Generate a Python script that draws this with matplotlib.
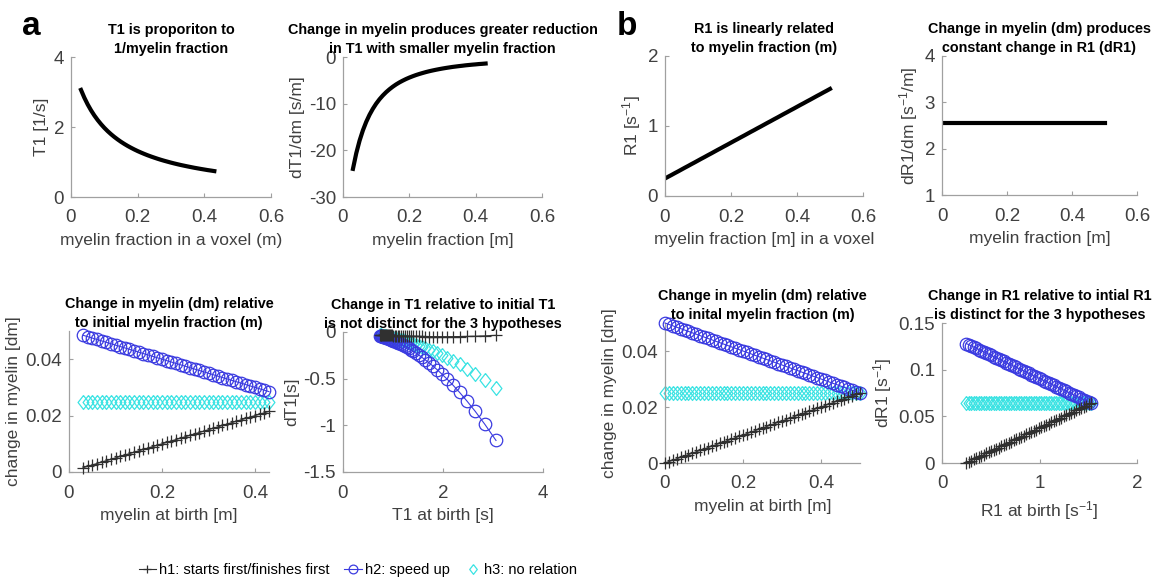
"""Myelin / T1 / R1 hypotheses figure: panels a (T1) and b (R1)."""
import matplotlib
matplotlib.use("Agg")
import matplotlib.pyplot as plt
from matplotlib import font_manager
from matplotlib.ticker import FuncFormatter

plt.rcParams["font.family"] = ["Liberation Sans", "DejaVu Sans"]
plt.rcParams["mathtext.default"] = "regular"
plt.rcParams["axes.unicode_minus"] = False

# ---------------- panel a: myelin fraction 0.03 .. 0.43 ----------------
M_A = [0.03, 0.04, 0.05, 0.06, 0.07, 0.08, 0.09, 0.10, 0.11, 0.12, 0.13,
       0.14, 0.15, 0.16, 0.17, 0.18, 0.19, 0.20, 0.21, 0.22, 0.23, 0.24,
       0.25, 0.26, 0.27, 0.28, 0.29, 0.30, 0.31, 0.32, 0.33, 0.34, 0.35,
       0.36, 0.37, 0.38, 0.39, 0.40, 0.41, 0.42, 0.43]
T1_A = [3.060, 2.838, 2.646, 2.478, 2.330, 2.199, 2.082, 1.976, 1.881, 1.795,
        1.716, 1.644, 1.577, 1.516, 1.459, 1.407, 1.358, 1.312, 1.270, 1.230,
        1.192, 1.157, 1.124, 1.092, 1.062, 1.034, 1.008, 0.982, 0.958, 0.935,
        0.913, 0.893, 0.873, 0.854, 0.835, 0.818, 0.801, 0.785, 0.769, 0.755,
        0.740]
DT1_DM_A = [-23.97, -20.62, -17.92, -15.72, -13.90, -12.38, -11.10, -10.00,
            -9.06, -8.25, -7.54, -6.92, -6.37, -5.88, -5.45, -5.07, -4.72,
            -4.41, -4.13, -3.87, -3.64, -3.43, -3.23, -3.05, -2.89, -2.74,
            -2.60, -2.47, -2.35, -2.24, -2.13, -2.04, -1.95, -1.87, -1.78,
            -1.71, -1.64, -1.58, -1.51, -1.46, -1.40]
DM_H1_A = [0.0015, 0.0020, 0.0025, 0.0030, 0.0035, 0.0040, 0.0045, 0.0050,
           0.0055, 0.0060, 0.0065, 0.0070, 0.0075, 0.0080, 0.0085, 0.0090,
           0.0095, 0.0100, 0.0105, 0.0110, 0.0115, 0.0120, 0.0125, 0.0130,
           0.0135, 0.0140, 0.0145, 0.0150, 0.0155, 0.0160, 0.0165, 0.0170,
           0.0175, 0.0180, 0.0185, 0.0190, 0.0195, 0.0200, 0.0205, 0.0210,
           0.0215]
DM_H2_A = [0.0485, 0.0480, 0.0475, 0.0470, 0.0465, 0.0460, 0.0455, 0.0450,
           0.0445, 0.0440, 0.0435, 0.0430, 0.0425, 0.0420, 0.0415, 0.0410,
           0.0405, 0.0400, 0.0395, 0.0390, 0.0385, 0.0380, 0.0375, 0.0370,
           0.0365, 0.0360, 0.0355, 0.0350, 0.0345, 0.0340, 0.0335, 0.0330,
           0.0325, 0.0320, 0.0315, 0.0310, 0.0305, 0.0300, 0.0295, 0.0290,
           0.0285]
DM_H3_A = [0.025] * 41
DT1_H1_A = [-0.0360, -0.0412, -0.0448, -0.0472, -0.0487, -0.0495, -0.0500,
            -0.0500, -0.0498, -0.0495, -0.0490, -0.0484, -0.0478, -0.0470,
            -0.0463, -0.0456, -0.0448, -0.0441, -0.0434, -0.0426, -0.0419,
            -0.0412, -0.0404, -0.0397, -0.0390, -0.0384, -0.0377, -0.0371,
            -0.0364, -0.0358, -0.0351, -0.0347, -0.0341, -0.0337, -0.0329,
            -0.0325, -0.0320, -0.0316, -0.0310, -0.0307, -0.0301]
DT1_H2_A = [-1.162, -0.990, -0.851, -0.739, -0.646, -0.569, -0.505, -0.450,
            -0.403, -0.363, -0.328, -0.298, -0.271, -0.247, -0.226, -0.208,
            -0.191, -0.176, -0.163, -0.151, -0.140, -0.130, -0.121, -0.113,
            -0.105, -0.099, -0.092, -0.086, -0.081, -0.076, -0.071, -0.067,
            -0.063, -0.060, -0.056, -0.053, -0.050, -0.047, -0.045, -0.042,
            -0.040]
DT1_H3_A = [-0.599, -0.516, -0.448, -0.393, -0.348, -0.310, -0.278, -0.250,
            -0.227, -0.206, -0.189, -0.173, -0.159, -0.147, -0.136, -0.127,
            -0.118, -0.110, -0.103, -0.097, -0.091, -0.086, -0.081, -0.076,
            -0.072, -0.069, -0.065, -0.062, -0.059, -0.056, -0.053, -0.051,
            -0.049, -0.047, -0.045, -0.043, -0.041, -0.040, -0.038, -0.037,
            -0.035]

# ---------------- panel b: myelin fraction 0 .. 0.5 ----------------
M_B = [0.00, 0.01, 0.02, 0.03, 0.04, 0.05, 0.06, 0.07, 0.08, 0.09, 0.10,
       0.11, 0.12, 0.13, 0.14, 0.15, 0.16, 0.17, 0.18, 0.19, 0.20, 0.21,
       0.22, 0.23, 0.24, 0.25, 0.26, 0.27, 0.28, 0.29, 0.30, 0.31, 0.32,
       0.33, 0.34, 0.35, 0.36, 0.37, 0.38, 0.39, 0.40, 0.41, 0.42, 0.43,
       0.44, 0.45, 0.46, 0.47, 0.48, 0.49, 0.50]
R1_B = [0.250, 0.276, 0.301, 0.327, 0.352, 0.378, 0.404, 0.429, 0.455, 0.480,
        0.506, 0.532, 0.557, 0.583, 0.608, 0.634, 0.660, 0.685, 0.711, 0.736,
        0.762, 0.788, 0.813, 0.839, 0.864, 0.890, 0.916, 0.941, 0.967, 0.992,
        1.018, 1.044, 1.069, 1.095, 1.120, 1.146, 1.172, 1.197, 1.223, 1.248,
        1.274, 1.300, 1.325, 1.351, 1.376, 1.402, 1.428, 1.453, 1.479, 1.504,
        1.530]
DR1_DM_B = [2.56] * 51
DM_H1_B = [0.0000, 0.0005, 0.0010, 0.0015, 0.0020, 0.0025, 0.0030, 0.0035,
           0.0040, 0.0045, 0.0050, 0.0055, 0.0060, 0.0065, 0.0070, 0.0075,
           0.0080, 0.0085, 0.0090, 0.0095, 0.0100, 0.0105, 0.0110, 0.0115,
           0.0120, 0.0125, 0.0130, 0.0135, 0.0140, 0.0145, 0.0150, 0.0155,
           0.0160, 0.0165, 0.0170, 0.0175, 0.0180, 0.0185, 0.0190, 0.0195,
           0.0200, 0.0205, 0.0210, 0.0215, 0.0220, 0.0225, 0.0230, 0.0235,
           0.0240, 0.0245, 0.0250]
DM_H2_B = [0.0500, 0.0495, 0.0490, 0.0485, 0.0480, 0.0475, 0.0470, 0.0465,
           0.0460, 0.0455, 0.0450, 0.0445, 0.0440, 0.0435, 0.0430, 0.0425,
           0.0420, 0.0415, 0.0410, 0.0405, 0.0400, 0.0395, 0.0390, 0.0385,
           0.0380, 0.0375, 0.0370, 0.0365, 0.0360, 0.0355, 0.0350, 0.0345,
           0.0340, 0.0335, 0.0330, 0.0325, 0.0320, 0.0315, 0.0310, 0.0305,
           0.0300, 0.0295, 0.0290, 0.0285, 0.0280, 0.0275, 0.0270, 0.0265,
           0.0260, 0.0255, 0.0250]
DM_H3_B = [0.025] * 51
DR1_H1_B = [0.0000, 0.0013, 0.0026, 0.0038, 0.0051, 0.0064, 0.0077, 0.0090,
            0.0102, 0.0115, 0.0128, 0.0141, 0.0154, 0.0166, 0.0179, 0.0192,
            0.0205, 0.0218, 0.0230, 0.0243, 0.0256, 0.0269, 0.0282, 0.0294,
            0.0307, 0.0320, 0.0333, 0.0346, 0.0358, 0.0371, 0.0384, 0.0397,
            0.0410, 0.0422, 0.0435, 0.0448, 0.0461, 0.0474, 0.0486, 0.0499,
            0.0512, 0.0525, 0.0538, 0.0550, 0.0563, 0.0576, 0.0589, 0.0602,
            0.0614, 0.0627, 0.0640]
DR1_H2_B = [0.1280, 0.1267, 0.1254, 0.1242, 0.1229, 0.1216, 0.1203, 0.1190,
            0.1178, 0.1165, 0.1152, 0.1139, 0.1126, 0.1114, 0.1101, 0.1088,
            0.1075, 0.1062, 0.1050, 0.1037, 0.1024, 0.1011, 0.0998, 0.0986,
            0.0973, 0.0960, 0.0947, 0.0934, 0.0922, 0.0909, 0.0896, 0.0883,
            0.0870, 0.0858, 0.0845, 0.0832, 0.0819, 0.0806, 0.0794, 0.0781,
            0.0768, 0.0755, 0.0742, 0.0730, 0.0717, 0.0704, 0.0691, 0.0678,
            0.0666, 0.0653, 0.0640]
DR1_H3_B = [0.064] * 51

HYP_LABELS = ["h1: starts first/finishes first", "h2: speed up", "h3: no relation"]

# ---------------- style ----------------
W, H = 1158, 584
AXIS_GRAY = "#a0a0a0"
TEXT_GRAY = "#404040"
C_H1 = "#303030"
C_H2 = "#3b3be0"
C_H3 = "#3ae3e3"
DIAMOND = [(0, 1), (0.78, 0), (0, -1), (-0.78, 0), (0, 1)]
INV_S = "s$^{-1}$"


def rect(x0, y0, x1, y1):
    return [x0 / W, 1 - y1 / H, (x1 - x0) / W, (y1 - y0) / H]


def style(ax, title, xlabel, ylabel, xlim, ylim, xticks, yticks):
    for s in ("top", "right"):
        ax.spines[s].set_visible(False)
    for s in ("left", "bottom"):
        ax.spines[s].set_color(AXIS_GRAY)
        ax.spines[s].set_linewidth(0.9)
    ax.set_xlim(xlim)
    ax.set_ylim(ylim)
    ax.set_xticks(xticks)
    ax.set_yticks(yticks)
    fmt = FuncFormatter(lambda v, p: f"{v:g}")
    ax.xaxis.set_major_formatter(fmt)
    ax.yaxis.set_major_formatter(fmt)
    ax.tick_params(direction="in", length=3, width=0.8, color=AXIS_GRAY,
                   labelcolor=TEXT_GRAY, labelsize=13.5)
    ax.tick_params(axis="x", pad=9)
    ax.tick_params(axis="y", pad=5)
    ax.set_xlabel(xlabel, fontsize=12.5, color=TEXT_GRAY, labelpad=5)
    ax.set_ylabel(ylabel, fontsize=12.5, color=TEXT_GRAY, labelpad=3)
    ax.set_title(title, fontsize=10.4, fontweight="bold", pad=3, linespacing=1.45)


def hypotheses(ax, x, y1, y2, y3):
    l1, = ax.plot(x, y1, "-+", color=C_H1, lw=0.8, ms=8, mew=0.9,
                  clip_on=False, zorder=4)
    l2, = ax.plot(x, y2, "-o", color=C_H2, lw=0.8, ms=9, mfc="none", mew=0.9,
                  clip_on=False, zorder=3)
    l3, = ax.plot(x, y3, ls="none", marker=DIAMOND, color=C_H3, ms=10,
                  mfc="none", mew=0.9, clip_on=False, zorder=2)
    return [l1, l2, l3]


fig = plt.figure(figsize=(W / 100, H / 100), dpi=100)

# --- a, top row
ax = fig.add_axes(rect(71, 57, 271, 197))
ax.plot(M_A, T1_A, color="black", lw=3)
style(ax, "T1 is proporiton to\n1/myelin fraction",
      "myelin fraction in a voxel (m)", "T1 [1/s]",
      (0, 0.6), (0, 4), [0, 0.2, 0.4, 0.6], [0, 2, 4])

ax = fig.add_axes(rect(343, 57, 542, 197))
ax.plot(M_A, DT1_DM_A, color="black", lw=3)
style(ax, "Change in myelin produces greater reduction\nin T1 with smaller myelin fraction",
      "myelin fraction [m]", "dT1/dm [s/m]",
      (0, 0.6), (-30, 0), [0, 0.2, 0.4, 0.6], [-30, -20, -10, 0])

# --- b, top row
ax = fig.add_axes(rect(665, 56, 863, 196))
ax.plot(M_B, R1_B, color="black", lw=3)
style(ax, "R1 is linearly related\nto myelin fraction (m)",
      "myelin fraction [m] in a voxel", f"R1 [{INV_S}]",
      (0, 0.6), (0, 2), [0, 0.2, 0.4, 0.6], [0, 1, 2])

ax = fig.add_axes(rect(942, 56, 1137, 195))
ax.plot(M_B, DR1_DM_B, color="black", lw=3)
style(ax, "Change in myelin (dm) produces\nconstant change in R1 (dR1)",
      "myelin fraction [m]", f"dR1/dm [{INV_S}/m]",
      (0, 0.6), (1, 4), [0, 0.2, 0.4, 0.6], [1, 2, 3, 4])

# --- a, bottom row
ax = fig.add_axes(rect(69, 331, 269, 472))
handles = hypotheses(ax, M_A, DM_H1_A, DM_H2_A, DM_H3_A)
style(ax, "Change in myelin (dm) relative\nto initial myelin fraction (m)",
      "myelin at birth [m]", "change in myelin [dm]",
      (0, 0.43), (0, 0.05), [0, 0.2, 0.4], [0, 0.02, 0.04])

ax = fig.add_axes(rect(343, 332, 543, 472))
hypotheses(ax, T1_A, DT1_H1_A, DT1_H2_A, DT1_H3_A)
style(ax, "Change in T1 relative to initial T1\nis not distinct for the 3 hypotheses",
      "T1 at birth [s]", "dT1[s]",
      (0, 4), (-1.5, 0), [0, 2, 4], [-1.5, -1, -0.5, 0])

# --- b, bottom row
ax = fig.add_axes(rect(665, 323, 860, 463))
hypotheses(ax, M_B, DM_H1_B, DM_H2_B, DM_H3_B)
style(ax, "Change in myelin (dm) relative\nto inital myelin fraction (m)",
      "myelin at birth [m]", "change in myelin [dm]",
      (0, 0.5), (0, 0.05), [0, 0.2, 0.4], [0, 0.02, 0.04])

ax = fig.add_axes(rect(942, 323, 1137, 463))
hypotheses(ax, R1_B, DR1_H1_B, DR1_H2_B, DR1_H3_B)
style(ax, "Change in R1 relative to intial R1\nis distinct for the 3 hypotheses",
      f"R1 at birth [{INV_S}]", f"dR1 [{INV_S}]",
      (0, 2), (0, 0.15), [0, 1, 2], [0, 0.05, 0.1, 0.15])

# panel letters
fig.text(22 / W, 1 - 35 / H, "a", fontsize=24, fontweight="bold", va="baseline")
fig.text(617 / W, 1 - 35 / H, "b", fontsize=24, fontweight="bold", va="baseline")

# legend (condensed font if available)
names = {f.name for f in font_manager.fontManager.ttflist}
if "Liberation Sans Narrow" in names:
    leg_font = {"family": "Liberation Sans Narrow", "size": 13}
else:
    leg_font = {"family": "Liberation Sans", "size": 10.5}
fig.legend(handles, HYP_LABELS, loc="center", bbox_to_anchor=(358 / W, 1 - 570 / H),
           ncol=3, frameon=False, prop=leg_font, handlelength=1.2,
           handletextpad=0.2, columnspacing=1.0, markerscale=0.7)

fig.savefig("out.png", dpi=100)
